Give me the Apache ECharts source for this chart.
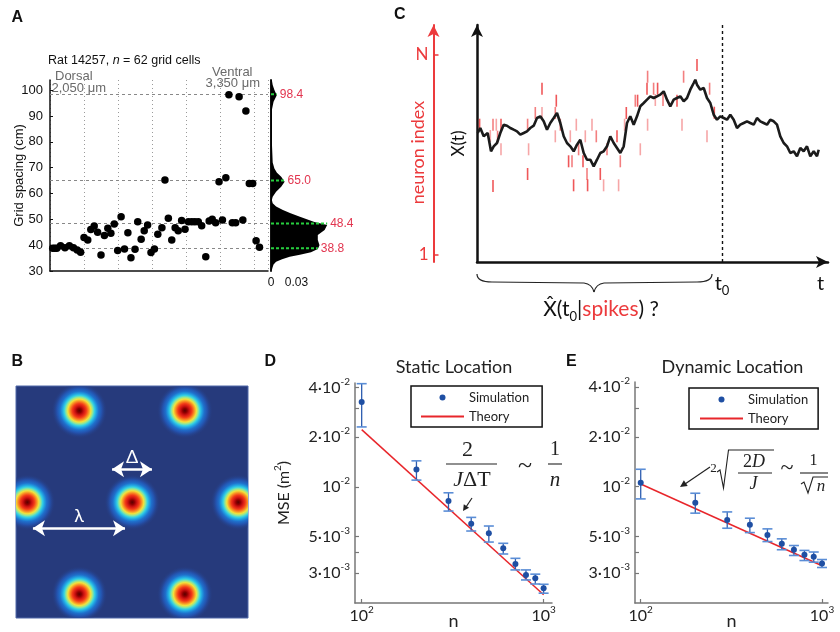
<!DOCTYPE html>
<html><head><meta charset="utf-8">
<script src="https://cdn.jsdelivr.net/npm/echarts@6/dist/echarts.min.js"></script>
<style>html,body{margin:0;padding:0;background:#fff}#c{width:840px;height:632px}</style>
</head><body><div id="c"></div><script>
// ---------------- Panel A : grid spacing vs. cell position ----------------
const aCellPos = [0.8,1.4,2.0,3.1,4.4,5.7,6.9,8.0,9.0,10.0,11.1,12.0,13.0,14.0,15.0,16.0,17.0,17.9,18.9,19.9,20.9,21.9,22.9,23.8,25.0,25.8,26.8,27.7,28.7,29.7,30.7,31.7,32.9,33.8,34.8,35.8,36.8,37.7,38.7,39.7,40.7,41.7,42.6,43.6,44.6,45.8,46.8,47.7,48.7,49.7,50.7,51.7,52.6,53.6,54.6,55.6,56.7,57.6,58.6,59.6,60.6,61.6];
const aSpacing = [38.8,38.8,38.8,39.8,39.0,39.8,39.0,38.1,37.3,43.0,42.0,46.1,47.4,45.0,36.2,43.7,46.5,44.6,48.2,37.9,51.0,38.5,44.8,35.1,38.4,49.1,42.3,45.6,47.8,37.2,38.5,44.2,46.7,65.2,50.4,42.0,46.7,45.6,49.5,46.2,49.1,49.1,49.1,49.1,47.5,35.5,49.3,50.0,48.7,64.5,49.7,66.1,98.2,48.7,48.7,97.4,49.7,91.9,63.9,63.9,41.7,39.2];
const aLevels = [98.4, 65.0, 48.4, 38.8];
const aLevelDensity = [0.0068, 0.016, 0.066, 0.055];
const aDensitySpacing = [30.4,31.5,32.5,33.6,34.5,35.5,36.3,37.3,38.5,40.0,42.0,43.9,45.9,47.8,49.0,51.0,52.3,53.6,55.0,56.2,57.5,58.7,60.7,62.6,64.5,66.5,68.0,69.7,72.0,80.0,88.0,92.3,95.5,98.0,100.0,102.0,103.9];
const aDensityValue = [0.001,0.002,0.003,0.006,0.013,0.022,0.034,0.047,0.055,0.057,0.055,0.055,0.063,0.066,0.051,0.034,0.023,0.014,0.006,0.002,0.001,0.002,0.006,0.012,0.016,0.012,0.007,0.004,0.002,0.001,0.001,0.001,0.003,0.0068,0.004,0.002,0.001];
const aYTicks = [30,40,50,60,70,80,90,100];

// ---------------- Panel B : grid-cell firing fields ----------------
const fieldX = [27.3,72.8,4.9,50.1,95.8,27.3,72.8];
const fieldY = [89.4,89.4,49.9,49.9,49.9,10.3,10.3];
const bArrows = [
  {name:'λ', from:[7.3,38.7], to:[47.0,38.7]},
  {name:'Δ', from:[41.4,64.1], to:[58.6,64.1]}
];

// ---------------- Panel C : position trajectory and spikes ----------------
const walk = [[0.7,129],[3.3,134],[6.7,125.7],[10.7,129],[14,110.7],[16.7,115.7],[20,119],[23.3,129],[26.7,137.3],[30,136.3],[33.3,134],[36.7,132.3],[40,130.7],[43.3,127.3],[46.7,129],[50,130.7],[53.3,134],[56.7,136.3],[60,144],[63.3,145.7],[66.7,140.7],[70,132.3],[73.3,139],[76.7,144],[80,149],[83.3,139],[86.7,125.7],[90,119],[93.3,115.7],[96.7,110.7],[100,117.3],[103.3,122.3],[106.7,109],[110,102.3],[113.3,102.3],[116.7,95.7],[120,102.3],[123.3,109],[126.7,110.7],[130,115.7],[133.3,125.7],[136.7,119],[140,114],[143.3,109],[146.7,115.7],[150,139],[153.3,145.7],[156.7,137.3],[160,145.7],[163.3,155.7],[166.7,159],[170,162.3],[173.3,165.7],[176.7,164],[180,165.7],[183.3,167.3],[186.7,170.7],[190,162.3],[193.3,155.7],[196.7,162.3],[200,164],[203.3,165.7],[206.7,160.7],[210,164],[213.3,172.3],[216.7,179],[218.3,182.3],[220,177.3],[223.3,172.3],[226.7,174],[230,164],[233.3,159],[236.7,147.3],[240,142.3],[243.3,145.7],[246.7,144],[250,142.3],[253.3,147.3],[256.7,142.3],[260,134],[263.3,137.3],[266.7,139],[270,140.7],[273.3,139],[276.7,137.3],[280,144],[283.3,140.7],[286.7,139],[290,137.3],[293.3,142.3],[296.7,140.7],[300,137.3],[303.3,125.7],[306.7,119],[310,115.7],[313.3,109],[316.7,110.7],[320,105.7],[323.3,114],[326.7,110.7],[330,115.7],[333.3,105.7],[336.7,110.7],[340,105.7],[341.7,112.3]];
const spikes = [[2.6,137.3],[13.3,126],[16,137.3],[16,76],[19.3,137.3],[20.6,125.3],[24,137.3],[24,112.7],[50.6,137.3],[50.6,88],[51.6,112.7],[58.3,149],[65,173.3],[65,149],[78.3,149],[79.3,161.3],[78.3,125.7],[83.3,137.3],[91.6,100.7],[93.3,125.7],[95,100.7],[96.6,76.7],[99.3,137.3],[101.6,112.7],[106,100.7],[108.3,125.7],[110,88],[110.6,76.7],[115,137.3],[119.3,125.7],[123.3,88],[126.6,76.7],[130,112.7],[140,125.7],[141.6,76.7],[143.3,100.7],[149.3,149],[147.6,137.3],[158.3,161.3],[160.6,161.3],[163.3,112.7],[170.6,185.3],[170,173.3],[170.6,137.3],[176.6,173.3],[180.6,173.3],[178.3,162],[186,162],[200,161.3],[205,137.3],[206.6,185.3],[220,197],[230,125.7],[232.6,173.3],[237.3,149.3]];
const tZero = 245;
const tEnd = 343.5;
const neuronFirst = 7, neuronLast = 207;

// ---------------- Panels D & E : MSE vs n ----------------
const nVals = [100,200,300,400,500,600,700,800,900,1000];
const dMean = [0.0326,0.01274,0.0082,0.00598,0.00523,0.00424,0.00341,0.00293,0.0028,0.00243];
const dLow  = [0.02304,0.01098,0.00713,0.0054,0.00463,0.00392,0.00314,0.00273,0.00258,0.00227];
const dHigh = [0.0421,0.01436,0.0092,0.00653,0.00579,0.00455,0.00369,0.00314,0.00296,0.00257];
const dTheory = [[100,0.0222],[1000,0.00222]];
const eMean = [0.01057,0.008,0.00629,0.00587,0.0051,0.00451,0.00415,0.00387,0.00376,0.00342];
const eLow  = [0.00843,0.00691,0.0056,0.00527,0.00465,0.00415,0.00383,0.00357,0.00349,0.00324];
const eHigh = [0.01274,0.00912,0.00703,0.00644,0.00555,0.00483,0.0044,0.00411,0.00402,0.00362];
const eTheory = [[100,0.01038],[1000,0.00332]];
const mseLabelVals = [0.003,0.005,0.01,0.02,0.04];
const mseLabelText = ['3·10{sup|-3}','5·10{sup|-3}','10{sup|-2}','2·10{sup|-2}','4·10{sup|-2}'];
const mseTickVals = [0.003,0.004,0.005,0.01,0.02,0.03,0.04];
const nLabelVals = [100,1000];
const nLabelText = ['10{sup|2}','10{sup|3}'];

// ---------------- styling ----------------
const HELV = '"Liberation Sans", Arial, sans-serif';
const SANS = 'Lato, "Liberation Sans", sans-serif';
const SERIF = '"Liberation Serif", "DejaVu Serif", serif';
const RED = '#ec3a3c';
const BLUE = '#1f4fa3';

function pick(vals, texts, v){
  let best = 0, bd = Infinity;
  vals.forEach((x,i)=>{ const d = Math.abs(Math.log(x) - Math.log(v)); if (d < bd){bd=d;best=i;} });
  return texts[best];
}
const supRich = {sup:{fontSize:10, lineHeight:10, verticalAlign:'top', fontFamily:SANS, color:'#222'}};

function logYAxis(grid, min, max, withName){
  const ax = {
    gridIndex: grid, type:'log', min:min, max:max,
    axisLine:{show:true, lineStyle:{color:'#777', width:1.5}},
    axisTick:{show:true, inside:true, length:4, customValues: mseTickVals, lineStyle:{color:'#777', width:1.2}},
    minorTick:{show:false}, splitLine:{show:false},
    axisLabel:{customValues: mseLabelVals, formatter: v => pick(mseLabelVals, mseLabelText, v),
      fontSize:16, lineHeight:22, fontFamily:SANS, color:'#222', margin:5, rich: supRich}
  };
  if (withName){
    ax.name = 'MSE (m{sup|2})'; ax.nameLocation = 'middle'; ax.nameGap = 60; ax.nameMoveOverlap = false;
    ax.nameTextStyle = {fontSize:16, fontFamily:SANS, color:'#222', lineHeight:22, rich:{sup:{fontSize:10, lineHeight:10, verticalAlign:'top', fontFamily:SANS, color:'#222'}}};
  }
  return ax;
}
function logXAxis(grid, min, max){
  return {
    gridIndex: grid, type:'log', min:min, max:max,
    axisLine:{show:true, onZero:false, lineStyle:{color:'#777', width:1.5}},
    axisTick:{show:true, inside:true, length:4, customValues: nLabelVals, lineStyle:{color:'#777', width:1.2}},
    minorTick:{show:false}, splitLine:{show:false},
    axisLabel:{customValues: nLabelVals, formatter: v => pick(nLabelVals, nLabelText, v),
      fontSize:16, lineHeight:22, fontFamily:SANS, color:'#222', margin:2, rich: supRich},
    name:'n', nameLocation:'middle', nameGap:9, nameMoveOverlap:false,
    nameTextStyle:{fontSize:18, fontFamily:SANS, color:'#222'}
  };
}
function errRender(params, api){
  const x = api.value(0), lo = api.value(1), hi = api.value(2);
  const t = api.coord([x, hi]), b = api.coord([x, lo]);
  const w = 5;
  return {type:'group', children:[
    {type:'line', shape:{x1:t[0], y1:t[1], x2:b[0], y2:b[1]}, style:{stroke:'#2d5db0', lineWidth:1.3}},
    {type:'line', shape:{x1:t[0]-w, y1:t[1], x2:t[0]+w, y2:t[1]}, style:{stroke:'#5a8dd6', lineWidth:1.6}},
    {type:'line', shape:{x1:b[0]-w, y1:b[1], x2:b[0]+w, y2:b[1]}, style:{stroke:'#5a8dd6', lineWidth:1.6}}
  ]};
}
function mseSeries(xi, yi, mean, low, high, theory){
  return [
    {type:'custom', xAxisIndex:xi, yAxisIndex:yi, renderItem: errRender, encode:{x:0, y:[1,2]},
      data: nVals.map((n,i)=>[n, low[i], high[i]]), z:3, silent:true},
    {type:'line', name:'Theory', xAxisIndex:xi, yAxisIndex:yi, data: theory, symbol:'none',
      lineStyle:{color:'#e8262b', width:1.5}, itemStyle:{color:'rgba(0,0,0,0)', opacity:0}, z:2, silent:true},
    {type:'scatter', name:'Simulation', xAxisIndex:xi, yAxisIndex:yi, data: nVals.map((n,i)=>[n, mean[i]]),
      symbolSize:6, itemStyle:{color:BLUE, opacity:1}, z:4, silent:true}
  ];
}
function legendAt(left, top, padRight, padLeft){
  return {left:left, top:top, orient:'vertical', selectedMode:false,
    data:[{name:'Simulation', icon:'circle'}, {name:'Theory', itemStyle:{opacity:0}}],
    itemWidth:43, itemHeight:6, itemGap:4, padding:[4,padRight,3,padLeft],
    borderColor:'#111', borderWidth:1.5, backgroundColor:'#fff',
    textStyle:{fontSize:13, fontFamily:SANS, color:'#222', lineHeight:15}, z:10};
}
function txt(x, y, text, font, fill, align, extra){
  return {type:'text', x:x, y:y, silent:true, style:Object.assign({text:text, font:font, fill:fill||'#111', align:align||'left', verticalAlign:'middle'}, extra||{})};
}
function seg(x1,y1,x2,y2,w,color){
  return {type:'line', silent:true, shape:{x1:x1,y1:y1,x2:x2,y2:y2}, style:{stroke:color||'#222', lineWidth:w||1}};
}
function poly(points, w, color){
  return {type:'polyline', silent:true, shape:{points:points}, style:{stroke:color||'#222', lineWidth:w||1, fill:null}};
}
function qcurve(x1,y1,cx,cy,x2,y2,w){
  return {type:'bezierCurve', silent:true, shape:{x1:x1,y1:y1,cpx1:cx,cpy1:cy,x2:x2,y2:y2}, style:{stroke:'#222', lineWidth:w||1.2, fill:null}};
}

const fieldStops = [
  {offset:0, color:'#5a0000'},{offset:0.08, color:'#8e0000'},{offset:0.16, color:'#cc1212'},
  {offset:0.25, color:'#f23a18'},{offset:0.33, color:'#f98a22'},{offset:0.41, color:'#f2e23c'},
  {offset:0.48, color:'#8ee69a'},{offset:0.54, color:'#36d2e2'},{offset:0.61, color:'#21a2e2'},
  {offset:0.69, color:'#1f70cc'},{offset:0.8, color:'#2452ad'},{offset:1, color:'rgba(38,58,124,0)'}
];

const option = {
  animation:false,
  backgroundColor:'#fff',
  grid:[
    {left:50, top:80, width:218, height:191},
    {left:271, top:80, width:80, height:191},
    {left:477, top:25, width:351, height:237},
    {left:16, top:386, width:232, height:232, show:true, backgroundColor:'#263a7c', borderColor:'#5068a8', borderWidth:1},
    {left:355, top:383, width:197, height:220},
    {left:635, top:382, width:193, height:221}
  ],
  xAxis:[
    {gridIndex:0, type:'value', min:0, max:64.1, interval:10,
      axisLine:{onZero:false, lineStyle:{color:'#111', width:1.5}}, axisTick:{show:false}, axisLabel:{show:false},
      splitLine:{show:true, lineStyle:{type:[1,3], color:'#9a9a9a', width:1}}},
    {gridIndex:1, type:'value', min:0, max:0.094,
      axisLine:{show:false}, axisTick:{show:false}, splitLine:{show:false},
      axisLabel:{customValues:[0,0.03], formatter: v => (v === 0 ? '0' : '0.03'), fontSize:12, fontFamily:HELV, color:'#111', margin:6}},
    {gridIndex:2, type:'value', min:0, max:351,
      axisLine:{onZero:false, symbol:['none','arrow'], symbolSize:[9,12], lineStyle:{color:'#111', width:2.5}},
      axisTick:{show:false}, splitLine:{show:false},
      axisLabel:{customValues:[tZero, tEnd], formatter: v => (v < 300 ? 't{s|0}' : 't'), margin:9,
        fontSize:20, lineHeight:26, fontFamily:SANS, color:'#111',
        rich:{s:{fontSize:13, lineHeight:13, verticalAlign:'bottom', fontFamily:SANS, color:'#111'}}}},
    {gridIndex:3, type:'value', min:0, max:100, show:false},
    logXAxis(4, 91.9, 1112),
    logXAxis(5, 93, 1079)
  ],
  yAxis:[
    {gridIndex:0, type:'value', min:30, max:103.9,
      axisLine:{show:true, onZero:false, lineStyle:{color:'#111', width:1.5}},
      axisTick:{show:true, inside:true, length:3, customValues:aYTicks, lineStyle:{color:'#111'}},
      axisLabel:{customValues:aYTicks, fontSize:13, fontFamily:HELV, color:'#111', margin:7},
      splitLine:{show:false},
      name:'Grid spacing (cm)', nameLocation:'middle', nameGap:24, nameMoveOverlap:false,
      nameTextStyle:{fontSize:13, fontFamily:HELV, color:'#111'}},
    {gridIndex:1, type:'value', min:30, max:103.9,
      axisLine:{show:true, onZero:false, lineStyle:{color:'#111', width:2}}, axisTick:{show:false}, axisLabel:{show:false}, splitLine:{show:false}},
    {gridIndex:2, type:'value', min:0, max:237,
      axisLine:{show:true, onZero:false, symbol:['none','arrow'], symbolSize:[9,12], lineStyle:{color:'#111', width:2.5}},
      axisTick:{show:false}, axisLabel:{show:false}, splitLine:{show:false},
      name:'X(t)', nameLocation:'middle', nameGap:10, nameMoveOverlap:false,
      nameTextStyle:{fontSize:17, fontFamily:SANS, color:'#111'}},
    {gridIndex:2, type:'value', min:0, max:237, position:'left', offset:43.5,
      axisLine:{show:true, onZero:false, symbol:['none','arrow'], symbolSize:[9,12], lineStyle:{color:RED, width:2}},
      axisTick:{show:true, inside:true, length:5, customValues:[neuronFirst, neuronLast], lineStyle:{color:RED, width:1.5}},
      axisLabel:{customValues:[neuronFirst, neuronLast], formatter: v => (v < 100 ? '1' : 'N'), fontSize:17, fontFamily:SANS, color:RED, margin:5},
      splitLine:{show:false},
      name:'neuron index', nameLocation:'middle', nameGap:6, nameMoveOverlap:false,
      nameTextStyle:{fontSize:18, fontFamily:SANS, color:RED, padding:[0,0,0,-18]}},
    {gridIndex:3, type:'value', min:0, max:100, show:false},
    logYAxis(4, 0.00198, 0.0425, true),
    logYAxis(5, 0.001975, 0.043, false)
  ],
  legend:[ legendAt(411, 386, 13, 9), legendAt(689, 388, 10, 10) ],
  series:[
    {type:'scatter', xAxisIndex:0, yAxisIndex:0, data: aCellPos.map((x,i)=>[x, aSpacing[i]]),
      symbolSize:7.5, itemStyle:{color:'#000', opacity:1}, z:3, silent:true,
      markLine:{silent:true, symbol:'none', z:1, label:{show:false}, lineStyle:{color:'#888', type:[3,3], width:1},
        data: aLevels.map(v => ({yAxis:v}))}},
    {type:'custom', xAxisIndex:1, yAxisIndex:1, silent:true, z:2,
      data: aDensitySpacing.map((s,i)=>[aDensityValue[i], s]),
      renderItem: (params, api) => {
        if (params.dataIndex !== 0) return null;
        const pts = [api.coord([0, aDensitySpacing[0]])];
        aDensitySpacing.forEach((s,i)=> pts.push(api.coord([aDensityValue[i], s])));
        pts.push(api.coord([0, aDensitySpacing[aDensitySpacing.length-1]]));
        return {type:'polygon', shape:{points:pts}, style:{fill:'#000'}};
      }},
    ...aLevels.map((lv,i)=>({type:'line', xAxisIndex:1, yAxisIndex:1, silent:true, z:4,
      data:[[0,lv],[aLevelDensity[i],lv]], symbol:'none',
      lineStyle:{color:'#27cf3f', type:[3,2], width:2},
      endLabel:{show:true, formatter: lv.toFixed(1), color:'#e2344e', fontSize:12, fontFamily:HELV, distance:3}})),
    {type:'custom', xAxisIndex:3, yAxisIndex:4, clip:true, silent:true,
      data: fieldX.map((x,i)=>[x, fieldY[i]]),
      renderItem: (params, api) => {
        const c = api.coord([api.value(0), api.value(1)]);
        return {type:'circle', shape:{cx:c[0], cy:c[1], r:28},
          style:{fill:{type:'radial', x:0.5, y:0.5, r:0.5, colorStops:fieldStops}}};
      }},
    {type:'lines', coordinateSystem:'cartesian2d', xAxisIndex:3, yAxisIndex:4, silent:true, z:5,
      symbol:['arrow','arrow'], symbolSize:12,
      lineStyle:{color:'#fff', width:2.5, opacity:1},
      label:{show:true, position:'middle', color:'#fff', fontSize:18, fontFamily:SANS, distance:3, formatter: p => p.name},
      data: bArrows.map(a => ({name:a.name, coords:[a.from, a.to]}))},
    {type:'scatter', xAxisIndex:2, yAxisIndex:2, silent:true, z:2,
      data: spikes, symbol:'rect', symbolSize:[1.6,12],
      itemStyle:{opacity:1, color: p => ['rgba(236,58,60,0.85)','rgba(236,58,60,0.45)','rgba(236,58,60,0.65)'][p.dataIndex % 3]}},
    {type:'line', xAxisIndex:2, yAxisIndex:2, silent:true, z:4,
      data: walk, symbol:'none', lineStyle:{color:'#1b1b1b', width:2.6},
      markLine:{silent:true, symbol:'none', label:{show:false}, lineStyle:{color:'#111', type:[3,3], width:1.4},
        data:[{xAxis:tZero}]}},
    ...mseSeries(4, 5, dMean, dLow, dHigh, dTheory),
    ...mseSeries(5, 6, eMean, eLow, eHigh, eTheory)
  ],
  graphic:{elements:[
    txt(11.5, 17.5, 'A', 'bold 16px '+HELV),
    txt(11.5, 361.5, 'B', 'bold 16px '+HELV),
    txt(394, 15, 'C', 'bold 16px '+HELV),
    txt(264.5, 361.5, 'D', 'bold 16px '+HELV),
    txt(566, 361.5, 'E', 'bold 16px '+HELV),
    txt(48, 61, 'Rat 14257, {i|n} = 62 grid cells', '12.5px '+HELV, '#111', 'left',
      {rich:{i:{fontStyle:'italic', fontSize:12.5, fontFamily:HELV, fill:'#111'}}}),
    txt(55, 76, 'Dorsal', '13px '+HELV, '#6a6a6a'),
    txt(51.5, 88, '2,050 μm', '13px '+HELV, '#6a6a6a'),
    txt(252.5, 72, 'Ventral', '13px '+HELV, '#6a6a6a', 'right'),
    txt(260, 83.5, '3,350 μm', '13px '+HELV, '#6a6a6a', 'right'),
    qcurve(477,274, 477,282, 492,282),
    seg(492,282, 584,283, 1.2),
    qcurve(584,283, 592,284, 594,292),
    qcurve(594,292, 596,284, 604,283),
    seg(604,283, 697,282, 1.2),
    qcurve(697,282, 712,282, 712,274),
    txt(601, 309, '{a|X\u0302(t}{s|0}{a||}{r|spikes}{a|) ?}', '21px '+SANS, '#111', 'center',
      {rich:{a:{fontSize:21, lineHeight:28, fontFamily:SANS, fill:'#111'},
             r:{fontSize:21, lineHeight:28, fontFamily:SANS, fill:RED},
             s:{fontSize:13, lineHeight:13, verticalAlign:'bottom', fontFamily:SANS, fill:'#111'}}}),
    txt(454, 367, 'Static Location', '18px '+SANS, '#222', 'center'),
    txt(732.5, 367, 'Dynamic Location', '18px '+SANS, '#222', 'center'),
    txt(467.5, 450, '2', '22px '+SERIF, '#222', 'center'),
    seg(446, 464, 497, 464, 1.1),
    txt(472, 480, '{i|J}ΔT{i|}', '22px '+SERIF, '#222', 'center', {rich:{i:{fontStyle:'italic', fontSize:22, fontFamily:SERIF, fill:'#222'}}}),
    txt(525, 466, '~', '26px '+SERIF, '#222', 'center'),
    txt(555, 450, '1', '20px '+SERIF, '#222', 'center'),
    seg(548, 464, 562, 464, 1.1),
    txt(555, 480, 'n', 'italic 21px '+SERIF, '#222', 'center'),
    seg(472, 498, 466, 507, 1.2),
    {type:'polygon', silent:true, shape:{points:[[463,511],[469.1,507.7],[463.8,504.3]]}, style:{fill:'#222'}},
    txt(713.5, 469, '2', '13px '+SERIF, '#222', 'center'),
    poly([[717,472],[720,470],[723.5,488],[728.5,450],[774,450]], 1.1),
    txt(754, 462, '2{i|D}', '18px '+SERIF, '#222', 'center', {rich:{i:{fontStyle:'italic', fontSize:18, fontFamily:SERIF, fill:'#222'}}}),
    seg(738, 473, 772, 473, 1.1),
    txt(753.5, 484, 'J', 'italic 18px '+SERIF, '#222', 'center'),
    txt(787, 469, '~', '24px '+SERIF, '#222', 'center'),
    txt(813.5, 461, '1', '16px '+SERIF, '#222', 'center'),
    seg(800, 473, 828, 473, 1.1),
    poly([[801,484],[804,482],[808,493],[813,477],[828,477]], 1.1),
    txt(821, 486.5, 'n', 'italic 17px '+SERIF, '#222', 'center'),
    seg(710, 467, 685, 484, 1.2),
    {type:'polygon', silent:true, shape:{points:[[680,487],[687.7,486],[683.9,480.2]]}, style:{fill:'#222'}}
  ]}
};
const chart = echarts.init(document.getElementById('c'), null, {renderer:'canvas', width:840, height:632});
chart.setOption(option);
</script></body></html>
